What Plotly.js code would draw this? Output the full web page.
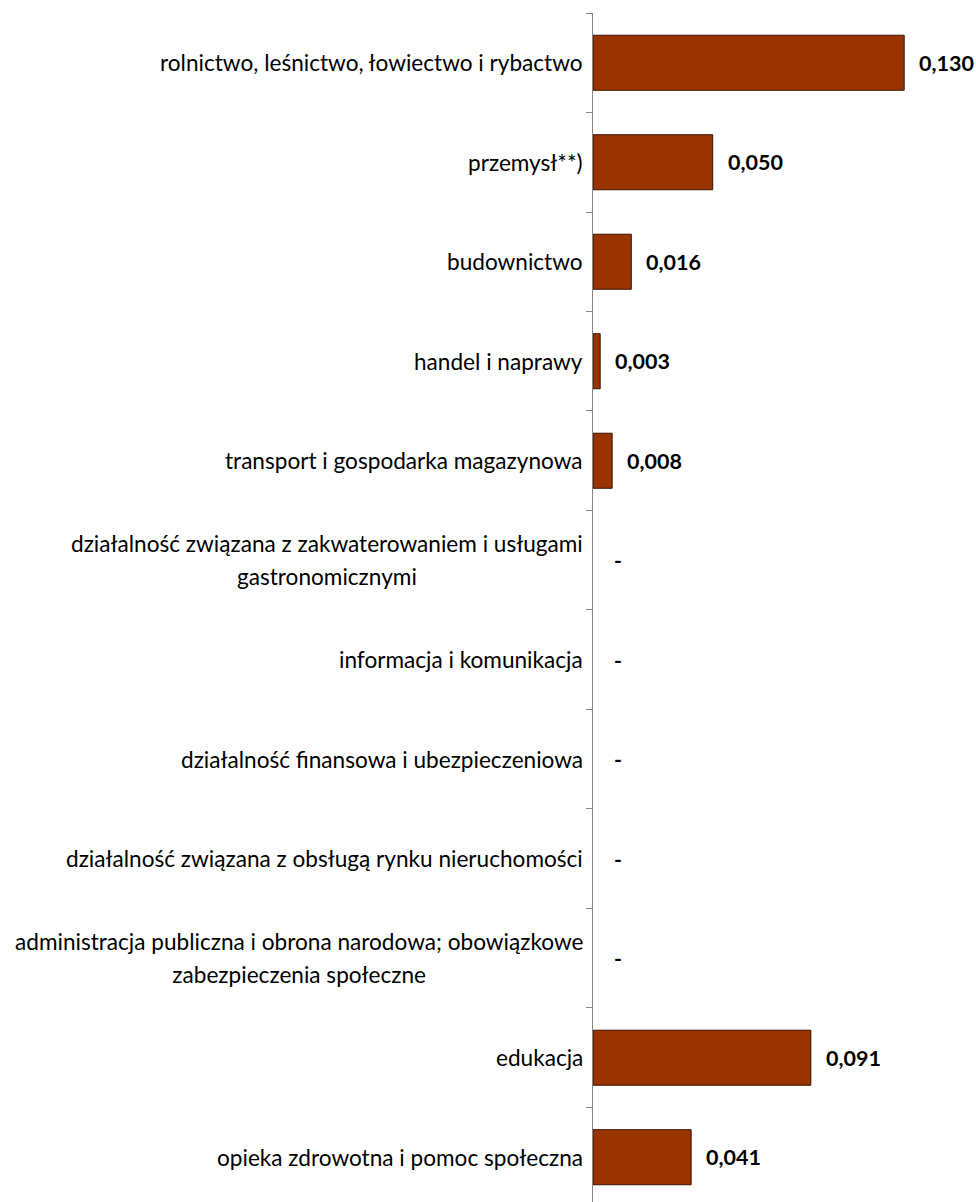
<!DOCTYPE html>
<html>
<head>
<meta charset="utf-8">
<script src="https://cdn.plot.ly/plotly-3.0.1.min.js"></script>
<style>html,body{margin:0;padding:0;background:#fff;}#chart{width:976px;height:1202px;}</style>
</head>
<body>
<div id="chart"></div>
<script>
var categories = [
  "rolnictwo, leśnictwo, łowiectwo i rybactwo",
  "przemysł**)",
  "budownictwo",
  "handel i naprawy",
  "transport i gospodarka magazynowa",
  "działalność związana z zakwaterowaniem i usługami<br>gastronomicznymi",
  "informacja i komunikacja",
  "działalność finansowa i ubezpieczeniowa",
  "działalność związana z obsługą rynku nieruchomości",
  "administracja publiczna i obrona narodowa; obowiązkowe<br>zabezpieczenia społeczne",
  "edukacja",
  "opieka zdrowotna i pomoc społeczna"
];
var values = [0.130, 0.050, 0.016, 0.003, 0.008, null, null, null, null, null, 0.091, 0.041];

var FONT = "Lato, 'Open Sans', sans-serif";
var LABEL_SIZE = 22.6;
var VALUE_SIZE = 21.5;

function fmt(v) {
  if (v === null) return "-";
  return v.toFixed(3).replace(".", ",");
}

var trace = {
  type: "bar",
  orientation: "h",
  y: categories,
  x: values,
  marker: {color: "#993300", line: {color: "#3a1200", width: 1}},
  hoverinfo: "skip"
};

var annotations = [];
categories.forEach(function(c, i) {
  annotations.push({
    xref: "paper", yref: "y", x: 0, y: c,
    xanchor: "right", yanchor: "middle", xshift: -8,
    text: '<span style="font-size:' + LABEL_SIZE + 'px">' + c.split("<br>").join('</span><br><span style="font-size:' + LABEL_SIZE + 'px">') + '</span>',
    showarrow: false, align: "center",
    font: {family: FONT, size: 25, color: "#000"}
  });
  var v = values[i];
  annotations.push({
    xref: "x", yref: "y", x: v === null ? 0 : v, y: c,
    xanchor: "left", yanchor: "middle", xshift: v === null ? 19 : 13,
    text: "<b>" + fmt(v) + "</b>", showarrow: false,
    font: {family: FONT, size: VALUE_SIZE, color: "#000"}
  });
});

var layout = {
  width: 976, height: 1202,
  margin: {l: 593, r: 0, t: 13, b: 0, pad: 0},
  paper_bgcolor: "#fff", plot_bgcolor: "#fff",
  showlegend: false,
  bargap: 0.447,
  xaxis: {range: [0, 0.160], visible: false, fixedrange: true},
  yaxis: {
    type: "category",
    range: [11.45, -0.5],
    showline: true, linecolor: "#868686", linewidth: 1,
    ticks: "outside", tickson: "boundaries", ticklen: 6, tickcolor: "#868686", tickwidth: 1,
    showticklabels: false, showgrid: false, zeroline: false, fixedrange: true
  },
  annotations: annotations
};

Plotly.newPlot("chart", [trace], layout, {displayModeBar: false, staticPlot: true});
</script>
</body>
</html>
